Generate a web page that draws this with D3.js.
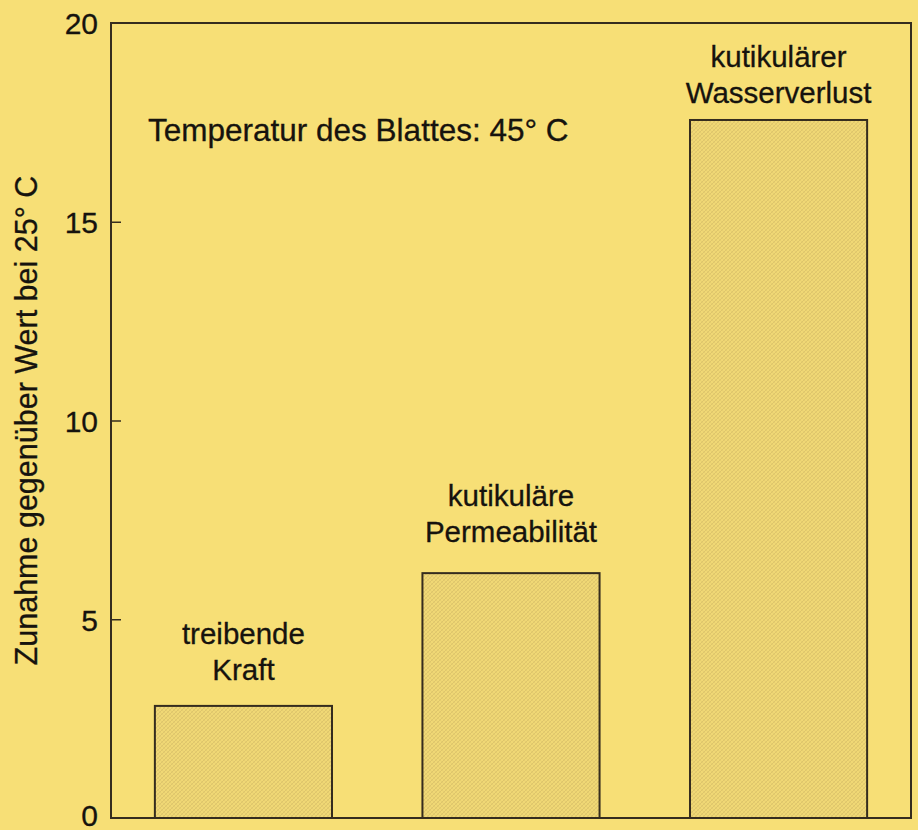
<!DOCTYPE html>
<html>
<head>
<meta charset="utf-8">
<script src="https://cdn.jsdelivr.net/npm/d3@7"></script>
<style>
  body { margin: 0; background: #f7df76; }
  svg { display: block; }
  text { font-family: "Liberation Sans", Arial, sans-serif; fill: #16130e; stroke: #16130e; stroke-width: 0.3; }
</style>
</head>
<body>
<script>
// data
const categories = ["treibende Kraft", "kutikuläre Permeabilität", "kutikulärer Wasserverlust"];
const labelLines = [["treibende", "Kraft"], ["kutikuläre", "Permeabilität"], ["kutikulärer", "Wasserverlust"]];
const values = [2.82, 6.16, 17.56];
const yTicks = [0, 5, 10, 15, 20];
const yTitle = "Zunahme gegenüber Wert bei 25° C";
const note = "Temperatur des Blattes: 45° C";

const width = 918;
const height = 830;
const margin = { top: 23, right: 7, bottom: 12, left: 111 };
const ink = "#352c1e";

const svg = d3.select("body").append("svg")
    .attr("width", width)
    .attr("height", height);

// fine crosshatch for the bars
const defs = svg.append("defs");
const pat = defs.append("pattern")
    .attr("id", "hatch")
    .attr("patternUnits", "userSpaceOnUse")
    .attr("width", 4)
    .attr("height", 4);
pat.append("rect").attr("width", 4).attr("height", 4).attr("fill", "#f0d875");
pat.append("path")
    .attr("d", "M0,4 L4,0 M-1,1 L1,-1 M3,5 L5,3")
    .attr("stroke", "#d2b964")
    .attr("stroke-width", 0.6);
pat.append("path")
    .attr("d", "M0,0 L4,4 M-1,3 L1,5 M3,-1 L5,1")
    .attr("stroke", "#dcc46a")
    .attr("stroke-width", 0.5);

const x = d3.scaleBand()
    .domain(categories)
    .range([margin.left, width - margin.right])
    .paddingInner(0.338)
    .paddingOuter(0.164);

const y = d3.scaleLinear()
    .domain([0, 20])
    .range([height - margin.bottom, margin.top]);

// bars
svg.selectAll("rect.bar")
    .data(values)
    .enter()
    .append("rect")
    .attr("class", "bar")
    .attr("x", (d, i) => x(categories[i]))
    .attr("y", d => y(d))
    .attr("width", x.bandwidth())
    .attr("height", d => y(0) - y(d))
    .attr("fill", "url(#hatch)")
    .attr("stroke", ink)
    .attr("stroke-width", 2);

// y axis: labels outside, short ticks inside
const yAxis = d3.axisLeft(y)
    .tickValues(yTicks)
    .tickSize(-10)
    .tickPadding(13)
    .tickFormat(d3.format("d"));

const gy = svg.append("g")
    .attr("transform", "translate(" + margin.left + ",0)")
    .call(yAxis);
gy.select(".domain").remove();
gy.selectAll(".tick line")
    .attr("stroke", ink)
    .attr("stroke-width", 1.5)
    .filter(d => d === 0 || d === 20).remove();
gy.selectAll(".tick text")
    .attr("font-size", 30)
    .attr("font-family", "'Liberation Sans', Arial, sans-serif")
    .attr("fill", "#16130e")
    .attr("dy", d => d === 0 ? "0.26em" : "0.36em");

// frame
svg.append("rect")
    .attr("x", margin.left)
    .attr("y", margin.top)
    .attr("width", width - margin.right - margin.left)
    .attr("height", height - margin.bottom - margin.top)
    .attr("fill", "none")
    .attr("stroke", ink)
    .attr("stroke-width", 2);

// y title
svg.append("text")
    .attr("transform", "translate(37," + y(10) + ") rotate(-90)")
    .attr("text-anchor", "middle")
    .attr("font-size", 30.5)
    .text(yTitle);

// note
svg.append("text")
    .attr("x", 148)
    .attr("y", y(17) - 1)
    .attr("font-size", 31.5)
    .text(note);

// bar labels, two lines above each bar
const lift = [26, 31, 17];
const lab = svg.selectAll("text.lab")
    .data(labelLines)
    .enter()
    .append("text")
    .attr("class", "lab")
    .attr("text-anchor", "middle")
    .attr("font-size", 29.5)
    .attr("x", (d, i) => x(categories[i]) + x.bandwidth() / 2)
    .attr("y", (d, i) => y(values[i]) - lift[i] - 36);
lab.selectAll("tspan")
    .data(d => d)
    .enter()
    .append("tspan")
    .attr("x", function () { return this.parentNode.getAttribute("x"); })
    .attr("dy", (d, j) => j === 0 ? 0 : 36)
    .text(d => d);
</script>
</body>
</html>
